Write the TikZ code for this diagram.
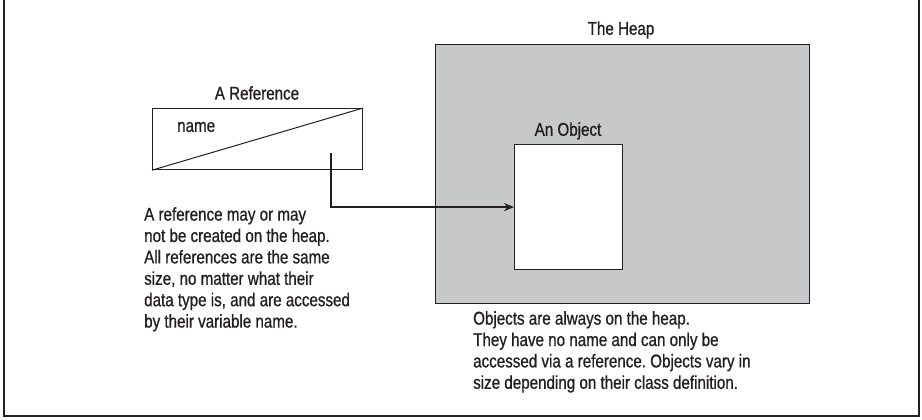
\documentclass[tikz,border=0pt]{standalone}
\usepackage{fontspec}
\setmainfont{Liberation Sans}[FakeStretch=0.82,FakeBold=0.8]
\usetikzlibrary{arrows.meta}
\definecolor{ink}{HTML}{231F20}
\definecolor{heapgray}{HTML}{C7C8CA}
\frenchspacing
\begin{document}
\begin{tikzpicture}[x=1pt,y=-1pt,
  every node/.style={text=ink, font=\fontsize{18.5}{21.4}\selectfont},
  box/.style={draw=ink, line width=1.2pt, inner sep=0pt, anchor=north west},
  note/.style={anchor=north west, align=left, inner sep=0pt},
  link/.style={draw=ink, line width=1.4pt, -{Stealth[length=10pt,width=8pt]}}]
\useasboundingbox (0,0) rectangle (922,420);
\draw[ink, line width=1.2pt] (4,0) -- (4,416) -- (919,416) -- (919,0);
% reference
\node[box, minimum width=210pt, minimum height=61pt] (ref) at (152,108) {};
\draw[ink, line width=1pt] (ref.south west) -- (ref.north east);
\node (reflabel) at (257,93) {A Reference};
\node[anchor=west, inner sep=0pt] (name) at (177,127) {name};
% heap
\node[box, fill=heapgray, minimum width=374pt, minimum height=259pt] (heap) at (435,44) {};
\node (heaplabel) at (621,30) {The Heap};
\node[box, fill=white, minimum width=108pt, minimum height=125pt] (obj) at (514,144) {};
\node (objlabel) at (568,131) {An Object};
\coordinate (start) at (331,153);
\draw[link] (start) |- (obj.west);
% notes
\node[note] (refnote) at (144,207) {A reference may or may\\not be created on the heap.\\All references are the same\\size, no matter what their\\data type is, and are accessed\\by their variable name.};
\node[note] (objnote) at (473,311) {Objects are always on the heap.\\They have no name and can only be\\accessed via a reference. Objects vary in\\size depending on their class definition.};
\end{tikzpicture}
\end{document}
